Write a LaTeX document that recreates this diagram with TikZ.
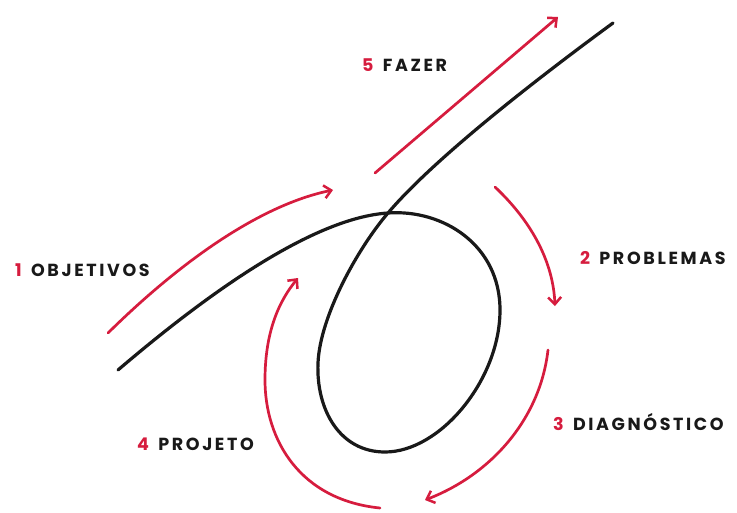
\documentclass[tikz,border=0pt]{standalone}
\usepackage{fontspec}
\usepackage{xcolor}
\usepackage{tikz}
\usetikzlibrary{arrows.meta}
\newfontfamily\cyclefont{Poppins}[LetterSpace=15]
\definecolor{cyclered}{RGB}{214,28,62}
\definecolor{cycleink}{RGB}{25,25,25}
\tikzstyle{pathline} = [draw=cycleink, line width=3.2pt, line cap=round]
\tikzstyle{arrow} = [draw=cyclered, line width=2.7pt, line cap=round, -{Straight Barb[length=7pt,width=13pt,line width=2.5pt]}]
\tikzstyle{steplabel} = [font=\cyclefont\bfseries\fontsize{17.5}{17.5}\selectfont, text=cycleink, inner sep=0pt, text height=12pt, text depth=0pt, anchor=west]
\newcommand{\stepnum}[1]{\textcolor{cyclered}{#1}\,}

\begin{document}
\begin{tikzpicture}[x=1pt, y=-1pt]
  \useasboundingbox[fill=white] (0,0) rectangle (737,512);

  % the path with its loop
  \coordinate (tail) at (118,370);
  \coordinate (cross) at (388,213);
  \coordinate (right) at (500,310);
  \coordinate (bottom) at (385,452);
  \coordinate (left) at (318,363);
  \coordinate (head) at (613,23);
  \draw[pathline] (tail) .. controls (200,300) and (310,218) .. (cross)
    .. controls (443,209) and (500,245) .. (right)
    .. controls (500,380) and (440,452) .. (bottom)
    .. controls (340,452) and (316,410) .. (left)
    .. controls (320,316) and (358,248) .. (cross)
    .. controls (438,154) and (553,67) .. (head);

  % labels
  \node (objetivos) [steplabel] at (15,270) {\stepnum{1} OBJETIVOS};
  \node (problemas) [steplabel] at (580,258) {\stepnum{2} PROBLEMAS};
  \node (diagnostico) [steplabel] at (553,424) {\stepnum{3} DIAGNÓSTICO};
  \node (projeto) [steplabel] at (137,444) {\stepnum{4} PROJETO};
  \node (fazer) [steplabel] at (362,65) {\stepnum{5} FAZER};

  % arrow ends
  \coordinate (objA) at (108,333);
  \coordinate (objB) at (333,190);
  \coordinate (fazA) at (375,173);
  \coordinate (fazB) at (558,17);
  \coordinate (probA) at (495,187);
  \coordinate (probB) at (555,306);
  \coordinate (diagA) at (548,350);
  \coordinate (diagB) at (425,500);
  \coordinate (projA) at (380,508);
  \coordinate (projB) at (298,278);

  \draw[arrow] (objA) .. controls (180,262) and (260,205) .. (objB);
  \draw[arrow] (fazA) -- (fazB);
  \draw[arrow] (probA) .. controls (530,220) and (553,260) .. (probB);
  \draw[arrow] (diagA) .. controls (540,420) and (490,475) .. (diagB);
  \draw[arrow] (projA) .. controls (300,500) and (265,440) .. (265,380)
    .. controls (265,330) and (280,300) .. (projB);
\end{tikzpicture}
\end{document}
